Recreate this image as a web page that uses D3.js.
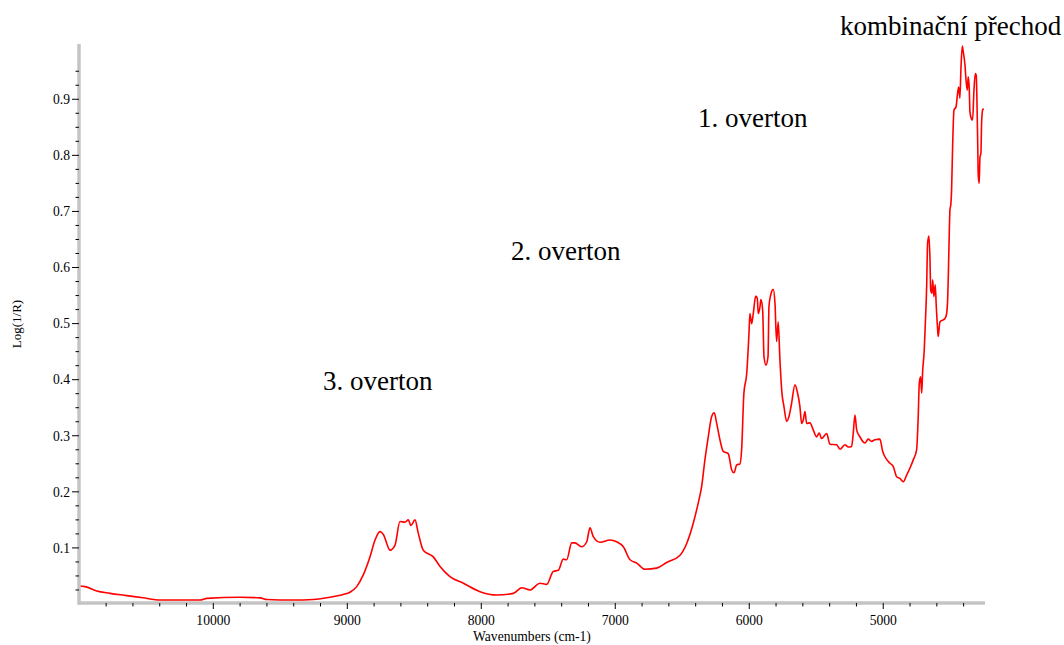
<!DOCTYPE html>
<html>
<head>
<meta charset="utf-8">
<script src="https://cdn.jsdelivr.net/npm/d3@7"></script>
<style>
  html, body { margin: 0; padding: 0; background: #fff; }
  svg { display: block; }
</style>
</head>
<body>
<svg id="chart" width="1064" height="645"></svg>
<script>
// NIR spectrum, wavenumber (cm-1) vs. Log(1/R)
const wavenumbers = [
  11010, 10957, 10870, 10771, 10646, 10525, 10398, 10099, 10049, 9801,
  9651, 9601, 9405, 9254, 9129, 9032, 8980, 8930, 8881, 8831,
  8793, 8756, 8731, 8681, 8644, 8607, 8569, 8545, 8525, 8495,
  8470, 8433, 8358, 8308, 8234, 8134, 8010, 7885, 7761, 7698,
  7637, 7562, 7512, 7463, 7425, 7388, 7363, 7325, 7301, 7251,
  7213, 7189, 7164, 7114, 7040, 6990, 6940, 6890, 6840, 6778,
  6691, 6616, 6517, 6467, 6418, 6381, 6355, 6331, 6306, 6281,
  6261, 6243, 6219, 6194, 6157, 6131, 6114, 6094, 6069, 6057,
  6040, 6019, 6002, 5995, 5982, 5970, 5952, 5940, 5933, 5920,
  5913, 5900, 5890, 5875, 5860, 5853, 5840, 5821, 5808, 5796,
  5784, 5771, 5756, 5741, 5721, 5704, 5684, 5659, 5642, 5622,
  5609, 5597, 5584, 5572, 5547, 5522, 5497, 5478, 5460, 5422,
  5398, 5348, 5323, 5286, 5261, 5236, 5224, 5211, 5198, 5174,
  5137, 5112, 5087, 5062, 5025, 5004, 4975, 4950, 4925, 4900,
  4875, 4851, 4825, 4801, 4776, 4751, 4739, 4731, 4721, 4713,
  4706, 4694, 4687, 4676, 4669, 4659, 4651, 4646, 4637, 4631,
  4622, 4612, 4604, 4594, 4590, 4577, 4539, 4527, 4519, 4515,
  4510, 4502, 4495, 4490, 4482, 4472, 4457, 4445, 4437, 4428,
  4420, 4410, 4403, 4390, 4383, 4373, 4366, 4358, 4353, 4343,
  4333, 4323, 4313, 4306, 4301, 4295, 4291, 4284, 4278, 4271,
  4266, 4258, 4250
];
const absorbance = [
  0.032, 0.031, 0.023, 0.019, 0.015, 0.011, 0.007, 0.007, 0.010, 0.012,
  0.011, 0.008, 0.007, 0.008, 0.012, 0.017, 0.021, 0.031, 0.052, 0.084,
  0.114, 0.129, 0.124, 0.096, 0.105, 0.147, 0.146, 0.150, 0.140, 0.150,
  0.126, 0.096, 0.084, 0.067, 0.049, 0.037, 0.022, 0.016, 0.019, 0.029,
  0.025, 0.037, 0.035, 0.058, 0.060, 0.080, 0.079, 0.109, 0.109, 0.102,
  0.111, 0.136, 0.120, 0.110, 0.114, 0.111, 0.102, 0.079, 0.073, 0.062,
  0.064, 0.074, 0.087, 0.108, 0.144, 0.180, 0.210, 0.257, 0.298, 0.334,
  0.341, 0.322, 0.293, 0.272, 0.268, 0.239, 0.234, 0.248, 0.250, 0.275,
  0.376, 0.411, 0.483, 0.518, 0.500, 0.518, 0.549, 0.545, 0.518, 0.530,
  0.543, 0.524, 0.441, 0.426, 0.441, 0.530, 0.551, 0.561, 0.536, 0.468,
  0.503, 0.435, 0.376, 0.352, 0.326, 0.334, 0.358, 0.391, 0.379, 0.352,
  0.322, 0.328, 0.343, 0.322, 0.323, 0.310, 0.298, 0.305, 0.295, 0.304,
  0.285, 0.284, 0.276, 0.284, 0.280, 0.281, 0.304, 0.337, 0.310, 0.298,
  0.287, 0.294, 0.290, 0.293, 0.294, 0.272, 0.258, 0.251, 0.245, 0.227,
  0.224, 0.218, 0.230, 0.242, 0.257, 0.275, 0.334, 0.394, 0.405, 0.376,
  0.414, 0.453, 0.494, 0.566, 0.643, 0.656, 0.613, 0.560, 0.554, 0.578,
  0.548, 0.569, 0.530, 0.489, 0.477, 0.503, 0.509, 0.518, 0.545, 0.578,
  0.631, 0.703, 0.714, 0.738, 0.818, 0.881, 0.886, 0.911, 0.922, 0.902,
  0.955, 0.995, 0.985, 0.961, 0.937, 0.916, 0.940, 0.919, 0.878, 0.866,
  0.863, 0.916, 0.946, 0.943, 0.902, 0.821, 0.765, 0.750, 0.797, 0.804,
  0.857, 0.881, 0.883
];

// Axis ticks
const xMajorTicks = [10000, 9000, 8000, 7000, 6000, 5000];
const xMinorTicks = d3.range(10800, 4399, -200).filter(v => v % 1000 !== 0);
const yMajorTicks = [0.1, 0.2, 0.3, 0.4, 0.5, 0.6, 0.7, 0.8, 0.9];
const yMinorTicks = d3.range(1, 39).map(i => i * 0.025).filter((v, i) => (i + 1) % 4 !== 0);

// Band annotations
const bandLabels = ["3. overton", "2. overton", "1. overton", "kombinační přechod"];
const bandLabelPos = [[323, 390], [511, 260], [698, 127], [840, 35]];

const serif = "'Liberation Serif', 'Times New Roman', 'DejaVu Serif', serif";

const svg = d3.select("#chart");
const x = d3.scaleLinear().domain([11010, 4248]).range([78, 984]);
const y = d3.scaleLinear().domain([0, 0.995]).range([604, 46]);
const axisY = 603;
const axisX = 79;
const axisGray = "#c4c4c4";

// Spectrum trace
const data = wavenumbers.map((w, i) => ({ w, v: absorbance[i] }));
svg.append("path")
  .datum(data)
  .attr("fill", "none")
  .attr("stroke", "#ff0000")
  .attr("stroke-width", 1.6)
  .attr("stroke-linejoin", "round")
  .attr("d", d3.line().x(d => x(d.w)).y(d => y(d.v)).curve(d3.curveMonotoneX));

// X axis
const gx = svg.append("g");
gx.append("line")
  .attr("x1", 78).attr("x2", 985).attr("y1", axisY).attr("y2", axisY)
  .attr("stroke", axisGray).attr("stroke-width", 3.5);
gx.selectAll(".xmin").data(xMinorTicks).join("line")
  .attr("x1", d => x(d)).attr("x2", d => x(d))
  .attr("y1", axisY).attr("y2", axisY + 3.5)
  .attr("stroke", "#000").attr("stroke-width", 1);
gx.selectAll(".xmaj").data(xMajorTicks).join("line")
  .attr("x1", d => x(d)).attr("x2", d => x(d))
  .attr("y1", axisY).attr("y2", axisY + 6)
  .attr("stroke", "#000").attr("stroke-width", 1);
gx.selectAll(".xlab").data(xMajorTicks).join("text")
  .attr("x", d => x(d)).attr("y", 625)
  .attr("text-anchor", "middle")
  .attr("font-family", serif)
  .attr("font-size", "13.6px")
  .text(d => d);
svg.append("text")
  .attr("x", 532).attr("y", 641)
  .attr("text-anchor", "middle")
  .attr("font-family", serif)
  .attr("font-size", "13.6px")
  .text("Wavenumbers (cm-1)");

// Y axis
const gy = svg.append("g");
gy.append("line")
  .attr("x1", axisX).attr("x2", axisX).attr("y1", 44).attr("y2", axisY + 1.75)
  .attr("stroke", axisGray).attr("stroke-width", 3.5);
gy.selectAll(".ymin").data(yMinorTicks).join("line")
  .attr("x1", axisX - 3.5).attr("x2", axisX)
  .attr("y1", d => y(d)).attr("y2", d => y(d))
  .attr("stroke", "#000").attr("stroke-width", 1);
gy.selectAll(".ymaj").data(yMajorTicks).join("line")
  .attr("x1", axisX - 7).attr("x2", axisX)
  .attr("y1", d => y(d)).attr("y2", d => y(d))
  .attr("stroke", "#000").attr("stroke-width", 1);
gy.selectAll(".ylab").data(yMajorTicks).join("text")
  .attr("x", 70).attr("y", d => y(d))
  .attr("dy", "0.35em")
  .attr("text-anchor", "end")
  .attr("font-family", serif)
  .attr("font-size", "13.6px")
  .text(d => d3.format(".1f")(d));
svg.append("text")
  .attr("transform", "translate(21,324) rotate(-90)")
  .attr("text-anchor", "middle")
  .attr("font-family", serif)
  .attr("font-size", "13px")
  .text("Log(1/R)");

// Annotations
svg.selectAll(".band").data(bandLabels).join("text")
  .attr("x", (d, i) => bandLabelPos[i][0])
  .attr("y", (d, i) => bandLabelPos[i][1])
  .attr("font-family", serif)
  .attr("font-size", "27px")
  .text(d => d);
</script>
</body>
</html>
